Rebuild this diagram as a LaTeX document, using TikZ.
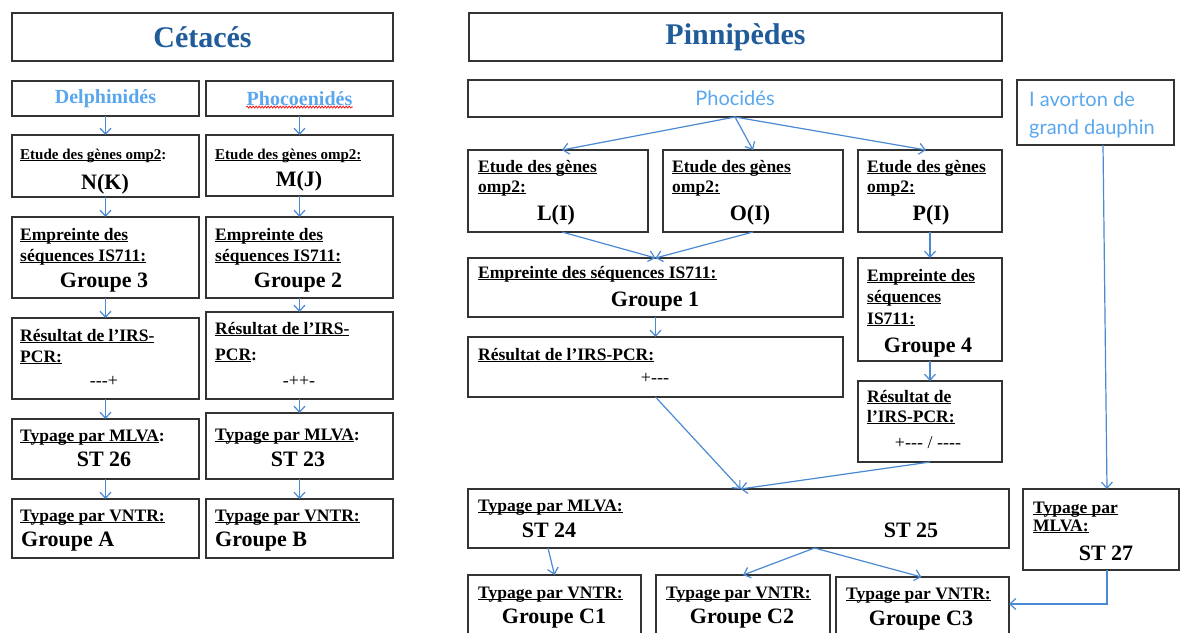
\documentclass[tikz,border=0pt]{standalone}
\usepackage{fontspec}
\setmainfont{Liberation Serif}
\newfontfamily\gill{Lato}
\usetikzlibrary{arrows.meta,calc,decorations.pathmorphing}
\definecolor{arrc}{HTML}{4A8AD4}
\definecolor{titc}{HTML}{1F5C99}
\definecolor{lblue}{HTML}{5AA7EE}
\definecolor{boxc}{HTML}{333333}
\newcommand\undl[1]{\setbox0\hbox{#1}\rlap{\rule[-2.4pt]{\wd0}{1.1pt}}\box0}
\begin{document}
\begin{tikzpicture}[x=1pt,y=-1pt,
  box/.style={draw=boxc,line width=1.4pt,anchor=north west,inner sep=0pt,outer sep=0pt},
  arr/.style={draw=arrc,line width=1.2pt,-{Straight Barb[length=6pt,width=11pt]}},
  hd/.style={font=\fontsize{17.5}{20}\selectfont\bfseries,anchor=base west,inner sep=0pt},
  hds/.style={font=\fontsize{15}{18}\selectfont\bfseries,anchor=base west,inner sep=0pt},
  val/.style={font=\fontsize{22}{26}\selectfont\bfseries,anchor=base,inner sep=0pt},
  valw/.style={font=\fontsize{22}{26}\selectfont\bfseries,anchor=base west,inner sep=0pt},
  sym/.style={font=\fontsize{18}{22}\selectfont,anchor=base,inner sep=0pt},
  ttl/.style={font=\fontsize{30}{34}\selectfont\bfseries,text=titc},
  fam/.style={font=\fontsize{20}{24}\selectfont\bfseries,text=lblue},
  gs/.style={font=\gill\fontsize{20}{24}\selectfont,text=lblue}]
\useasboundingbox (0,0) rectangle (1180,632);
\clip (0,0) rectangle (1180,632);
\fill[white] (0,0) rectangle (1180,632);
% ---------- boxes ----------
\node[box,minimum width=381pt,minimum height=48pt] (cet) at (12,13) {};
\node[box,minimum width=533pt,minimum height=48pt] (pin) at (469,13) {};
\node[box,minimum width=187pt,minimum height=35pt] (del) at (12,81) {};
\node[box,minimum width=187pt,minimum height=35pt] (pho) at (206,81) {};
\node[box,minimum width=187pt,minimum height=62pt] (etl) at (12,135) {};
\node[box,minimum width=187pt,minimum height=61pt] (etr) at (206,135) {};
\node[box,minimum width=187pt,minimum height=81pt] (eml) at (12,217) {};
\node[box,minimum width=187pt,minimum height=81pt] (emr) at (206,217) {};
\node[box,minimum width=187pt,minimum height=81pt] (rel) at (12,318) {};
\node[box,minimum width=187pt,minimum height=87pt] (rer) at (206,312) {};
\node[box,minimum width=187pt,minimum height=60pt] (mll) at (12,419) {};
\node[box,minimum width=187pt,minimum height=66pt] (mlr) at (206,413) {};
\node[box,minimum width=187pt,minimum height=59pt] (vnl) at (12,499) {};
\node[box,minimum width=187pt,minimum height=59pt] (vnr) at (206,499) {};
\node[box,minimum width=534pt,minimum height=37pt] (phoc) at (468,80) {};
\node[box,minimum width=180pt,minimum height=82pt] (eL) at (468,150) {};
\node[box,minimum width=180pt,minimum height=82pt] (eO) at (663,150) {};
\node[box,minimum width=144pt,minimum height=82pt] (eP) at (858,150) {};
\node[box,minimum width=375pt,minimum height=59pt] (em1) at (468,258) {};
\node[box,minimum width=144pt,minimum height=103pt] (emP) at (858,258) {};
\node[box,minimum width=375pt,minimum height=60pt] (re1) at (468,337) {};
\node[box,minimum width=144pt,minimum height=81pt] (reP) at (858,381) {};
\node[box,minimum width=541pt,minimum height=59pt] (ml) at (468,489) {};
\node[box,minimum width=173pt,minimum height=85pt] (c1) at (468,575) {};
\node[box,minimum width=174pt,minimum height=85pt] (c2) at (656,575) {};
\node[box,minimum width=173pt,minimum height=83pt] (c3) at (836,577) {};
\node[box,minimum width=157pt,minimum height=65pt] (av) at (1017,80) {};
\node[box,minimum width=156pt,minimum height=81pt] (st27) at (1023,489) {};
% ---------- titles ----------
\node[ttl] (tcet) at (cet) {Cétacés};
\node[ttl] (tpin) at (pin) {Pinnipèdes};
\node[fam] (tdel) at (del) {Delphinidés};
\node[fam] (tpho) at (pho) {Phocoenidés};
\draw[red,line width=0.7pt,decorate,decoration={snake,amplitude=1pt,segment length=3pt}] ($(tpho.south west)+(3,-2)$) -- ($(tpho.south east)+(-3,-2)$);
\node[gs] (tphoc) at (phoc) {Phocidés};
\node[gs,anchor=base west,inner sep=0pt] (tav1) at (1029,106) {I avorton de};
\node[gs,anchor=base west,inner sep=0pt] (tav2) at (1029,134) {grand dauphin};
% ---------- left columns ----------
\node[hds] (a1) at (20,159) {\undl{Etude des gènes omp2}:};
\node[val] (a2) at (105,189) {N(K)};
\node[hd] (a3) at (20,240) {\undl{Empreinte des}};
\node[hd] (a4) at (20,261) {\undl{séquences IS711:}};
\node[val] (a5) at (104,287) {Groupe 3};
\node[hd] (a6) at (20,341) {\undl{Résultat de l’IRS-}};
\node[hd] (a7) at (20,362) {\undl{PCR:}};
\node[sym] (a8) at (104,386) {-{}-{}-+};
\node[hd] (a9) at (20,441) {\undl{Typage par MLVA}:};
\node[val] (a10) at (104,466) {ST 26};
\node[hd] (a11) at (20,521) {\undl{Typage par VNTR:}};
\node[valw] (a12) at (21,546) {Groupe A};
\node[hds] (b1) at (215,159) {\undl{Etude des gènes omp2:}};
\node[val] (b2) at (299,186) {M(J)};
\node[hd] (b3) at (215,240) {\undl{Empreinte des}};
\node[hd] (b4) at (215,261) {\undl{séquences IS711:}};
\node[val] (b5) at (298,287) {Groupe 2};
\node[hd] (b6) at (215,334) {\undl{Résultat de l’IRS-}};
\node[hd] (b7) at (215,360) {\undl{PCR}:};
\node[sym] (b8) at (299,386) {-++-};
\node[hd] (b9) at (215,440) {\undl{Typage par MLVA}:};
\node[val] (b10) at (298,466) {ST 23};
\node[hd] (b11) at (215,521) {\undl{Typage par VNTR:}};
\node[valw] (b12) at (215,546) {Groupe B};
% ---------- middle ----------
\node[hd] (m1) at (478,172) {\undl{Etude des gènes}};
\node[hd] (m2) at (478,192) {\undl{omp2:}};
\node[val] (m3) at (556,220) {L(I)};
\node[hd] (m4) at (672,172) {\undl{Etude des gènes}};
\node[hd] (m5) at (672,192) {\undl{omp2:}};
\node[val] (m6) at (750,220) {O(I)};
\node[hd] (m7) at (867,172) {\undl{Etude des gènes}};
\node[hd] (m8) at (867,192) {\undl{omp2:}};
\node[val] (m9) at (931,220) {P(I)};
\node[hd] (m10) at (478,278) {\undl{Empreinte des séquences IS711:}};
\node[val] (m11) at (655,306) {Groupe 1};
\node[hd] (m12) at (867,281) {\undl{Empreinte des}};
\node[hd] (m13) at (867,302) {\undl{séquences}};
\node[hd] (m14) at (867,324) {\undl{IS711:}};
\node[val] (m15) at (928,352) {Groupe 4};
\node[hd] (m16) at (478,360) {\undl{Résultat de l’IRS-PCR:}};
\node[sym] (m17) at (655,383) {+-{}-{}-};
\node[hd] (m18) at (867,402) {\undl{Résultat de}};
\node[hd] (m19) at (867,422) {\undl{l’IRS-PCR:}};
\node[sym] (m20) at (928,448) {+-{}-{}- / -{}-{}-{}-};
\node[hd] (m21) at (478,511) {\undl{Typage par MLVA:}};
\node[val] (m22) at (549,537) {ST 24};
\node[val] (m23) at (911,537) {ST 25};
\node[hd] (m24) at (478,598) {\undl{Typage par VNTR:}};
\node[val] (m25) at (554,623) {Groupe C1};
\node[hd] (m26) at (666,598) {\undl{Typage par VNTR:}};
\node[val] (m27) at (742,623) {Groupe C2};
\node[hd] (m28) at (846,599) {\undl{Typage par VNTR:}};
\node[val] (m29) at (921,625) {Groupe C3};
\node[hd] (r1) at (1033,513) {\undl{Typage par}};
\node[hd] (r2) at (1033,531) {\undl{MLVA:}};
\node[val] (r3) at (1106,560) {ST 27};
% ---------- connectors ----------
\draw[arr] (del.south) -- (etl.north);
\draw[arr] (etl.south) -- (eml.north);
\draw[arr] (eml.south) -- (rel.north);
\draw[arr] (rel.south) -- (mll.north);
\draw[arr] (mll.south) -- (vnl.north);
\draw[arr] (pho.south) -- (etr.north);
\draw[arr] (etr.south) -- (emr.north);
\draw[arr] (emr.south) -- (rer.north);
\draw[arr] (rer.south) -- (mlr.north);
\draw[arr] (mlr.south) -- (vnr.north);
\draw[arr] (phoc.south) -- ($(eL.north)+(4,0)$);
\draw[arr] (phoc.south) -- (eO.north);
\draw[arr] (phoc.south) -- ($(eP.north)+(-4,0)$);
\draw[arr] ($(eL.south)+(4,0)$) -- (em1.north);
\draw[arr] (eO.south) -- (em1.north);
\draw[arr] (eP.south) -- (emP.north);
\draw[arr] (em1.south) -- (re1.north);
\draw[arr] (emP.south) -- (reP.north);
\draw[arr] (re1.south) -- ($(ml.north)+(2,0)$);
\draw[arr] (reP.south) -- ($(ml.north)+(2,0)$);
\draw[arr] ($(ml.south west)+(80,0)$) -- (c1.north);
\draw[arr] ($(ml.south)+(76,0)$) -- (c2.north);
\draw[arr] ($(ml.south)+(76,0)$) -- ($(c3.north)+(-1,0)$);
\draw[arr] ($(av.south)+(7.5,0)$) -- ($(st27.north)+(6,0)$);
\draw[arr] ($(st27.south)+(6,0)$) |- ($(c3.north east)+(0,27)$);
\end{tikzpicture}
\end{document}
